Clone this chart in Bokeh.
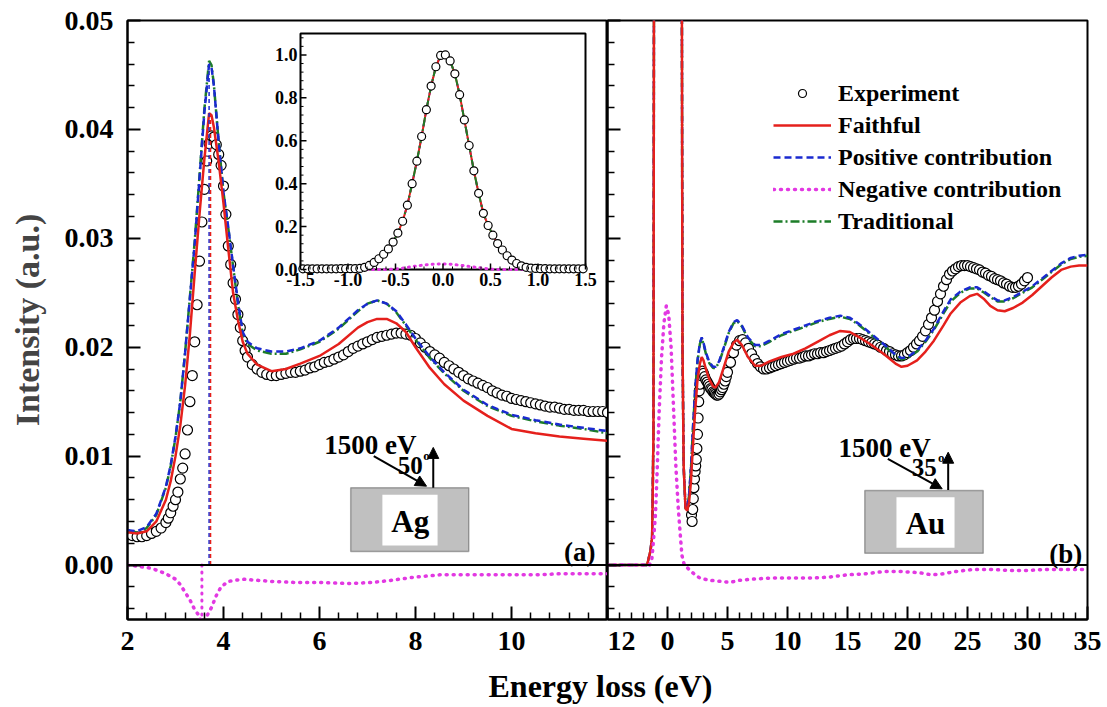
import numpy as np
from bokeh.plotting import figure
from bokeh.layouts import column, row
from bokeh.models import (Range1d, FixedTicker, Span, Legend, LegendItem, BoxAnnotation,
                          Arrow, NormalHead, Label, NumeralTickFormatter)
from bokeh.core.properties import value
from bokeh.embed import file_html
from bokeh.resources import INLINE

# ---------------- DATA ----------------
# Panel (a): Ag
ag_exp_x = ([round(2.0 + 0.1 * i, 2) for i in range(9)]
            + [round(2.85 + 0.05 * i, 2) for i in range(34)]
            + [round(4.6 + 0.1 * i, 2) for i in range(75)])
ag_exp_y = [0.0028, 0.0027, 0.0026, 0.0026, 0.0027, 0.0029, 0.0031, 0.0034, 0.0039,
            0.0043, 0.0048, 0.0054, 0.0060, 0.0067, 0.0079, 0.0089, 0.0102, 0.0124, 0.0150,
            0.0174, 0.0205, 0.0239, 0.0279, 0.0315, 0.0345, 0.0371, 0.0387, 0.0394, 0.0393,
            0.0386, 0.0377, 0.0367, 0.0348, 0.0322, 0.0293, 0.0276, 0.0259, 0.0244, 0.0230,
            0.0218, 0.0206, 0.0197, 0.0191,
            0.0184, 0.0180, 0.0177, 0.0175, 0.0174, 0.0174, 0.0175, 0.0176, 0.0177, 0.0177,
            0.0178, 0.0179, 0.0181, 0.0182, 0.0184, 0.0186, 0.0187, 0.0189, 0.0191, 0.0193,
            0.0196, 0.0199, 0.0201, 0.0203, 0.0205, 0.0207, 0.0209, 0.0210, 0.0211, 0.0212,
            0.0213, 0.0213, 0.0212, 0.0211, 0.0208, 0.0204, 0.0200, 0.0196, 0.0193, 0.0190,
            0.0186, 0.0183, 0.0180, 0.0177, 0.0174, 0.0171, 0.0169, 0.0167, 0.0165, 0.0163,
            0.0160, 0.0158, 0.0156, 0.0155, 0.0153, 0.0152, 0.0151, 0.0150, 0.0149, 0.0148,
            0.0147, 0.0146, 0.0145, 0.0145, 0.0144, 0.0143, 0.0143, 0.0142, 0.0142, 0.0142,
            0.0141, 0.0141, 0.0141, 0.0141, 0.0140]

ag_fit_x = [2.0, 2.2, 2.4, 2.6, 2.8, 2.9, 3.0, 3.1, 3.2, 3.3, 3.4, 3.5, 3.6, 3.7, 3.75,
            3.8, 3.9, 4.0, 4.1, 4.2, 4.3, 4.4, 4.5, 4.7, 5.0, 5.3, 5.6, 6.0, 6.4, 6.8,
            7.0, 7.2, 7.4, 7.6, 7.8, 8.0, 8.3, 8.6, 9.0, 9.5, 10.0, 10.5, 11.0, 11.5, 12.0]
ag_faithful = [0.0030, 0.0029, 0.0031, 0.0040, 0.0060, 0.0077, 0.0100, 0.0128, 0.0165, 0.0212,
               0.0268, 0.0322, 0.0372, 0.0415, 0.0413, 0.0402, 0.0370, 0.0332, 0.0290, 0.0250,
               0.0225, 0.0205, 0.0194, 0.0184, 0.0178, 0.0180, 0.0185, 0.0192, 0.0203, 0.0218,
               0.0223, 0.0226, 0.0226, 0.0222, 0.0214, 0.0200, 0.0181, 0.0166, 0.0151, 0.0137,
               0.0125, 0.0121, 0.0118, 0.0116, 0.0114]
ag_positive = [0.0032, 0.0031, 0.0035, 0.0047, 0.0072, 0.0092, 0.0118, 0.0150, 0.0195, 0.0245,
               0.0295, 0.0355, 0.0415, 0.0460, 0.0457, 0.0440, 0.0388, 0.0342, 0.0310, 0.0275,
               0.0242, 0.0214, 0.0205, 0.0199, 0.0196, 0.0196, 0.0199, 0.0206, 0.0218, 0.0234,
               0.0240, 0.0243, 0.0240, 0.0233, 0.0221, 0.0208, 0.0191, 0.0177, 0.0161, 0.0147,
               0.0138, 0.0133, 0.0129, 0.0126, 0.0123]
ag_traditional = [0.0031, 0.0030, 0.0034, 0.0046, 0.0071, 0.0091, 0.0117, 0.0150, 0.0195, 0.0246,
                  0.0297, 0.0357, 0.0418, 0.0463, 0.0459, 0.0441, 0.0388, 0.0342, 0.0309, 0.0274,
                  0.0240, 0.0212, 0.0203, 0.0197, 0.0194, 0.0194, 0.0198, 0.0205, 0.0217, 0.0233,
                  0.0240, 0.0243, 0.0240, 0.0232, 0.0220, 0.0207, 0.0190, 0.0176, 0.0160, 0.0146,
                  0.0137, 0.0132, 0.0128, 0.0125, 0.0121]
ag_neg_x = [2.0, 2.2, 2.5, 2.8, 3.0, 3.1, 3.2, 3.3, 3.4, 3.5, 3.55, 3.6, 3.65, 3.75, 3.85,
            3.95, 4.1, 4.4, 5.0, 5.5, 6.0, 6.6, 7.1, 7.5, 8.0, 8.5, 9.0, 9.5, 10.0, 10.5,
            11.0, 11.5, 12.0]
ag_negative = [0.0, -0.0001, -0.0003, -0.0008, -0.0013, -0.0018, -0.0025, -0.0032, -0.0041,
               -0.0047, -0.0056, -0.0056, -0.0047, -0.0039, -0.0028, -0.0020, -0.0015, -0.0013,
               -0.0015, -0.0016, -0.0016, -0.0017, -0.0016, -0.0014, -0.0011, -0.0009, -0.0009,
               -0.0009, -0.0009, -0.0009, -0.0008, -0.0008, -0.0008]
# sharp spikes (singular points) of the Ag curves
ag_spike_x = [3.70, 3.73]          # positive, faithful
ag_spike_top = [0.0460, 0.0413]
ag_neg_spike_x = [3.55]

# Inset: elastic peak
inset_x = [round(-1.475 + 0.05 * i, 3) for i in range(60)]
inset_exp = [0.003, 0.003, 0.003, 0.003, 0.003, 0.003, 0.003, 0.003, 0.004, 0.004,
             0.004, 0.004, 0.005, 0.010, 0.019, 0.033, 0.050, 0.071, 0.096, 0.128,
             0.170, 0.225, 0.300, 0.400, 0.505, 0.620, 0.745, 0.855, 0.945, 0.998,
             1.000, 0.972, 0.912, 0.815, 0.697, 0.578, 0.460, 0.355, 0.262, 0.205,
             0.160, 0.121, 0.091, 0.064, 0.044, 0.028, 0.017, 0.010, 0.006, 0.005,
             0.004, 0.004, 0.003, 0.003, 0.003, 0.003, 0.003, 0.003, 0.003, 0.003]
inset_fit = list(inset_exp)
inset_neg_x = [-1.5, -0.6, -0.5, -0.4, -0.3, -0.2, -0.1, 0.0, 0.1, 0.2, 0.3, 0.4, 0.5, 0.6, 1.5]
inset_neg = [0.0, 0.0, 0.002, 0.008, 0.015, 0.021, 0.025, 0.026, 0.024, 0.019, 0.013, 0.007,
             0.002, 0.0, 0.0]

# Panel (b): Au
au_exp_x = ([round(2.0 + 0.05 * i, 2) for i in range(15)]
            + [round(2.8 + 0.1 * i, 2) for i in range(23)]
            + [round(5.25 + 0.25 * i, 2) for i in range(100)])
au_exp_y = [0.0046, 0.0040, 0.0051, 0.0061, 0.0071, 0.0079, 0.0086, 0.0091, 0.0097, 0.0107,
            0.0120, 0.0135, 0.0150, 0.0160, 0.0166,
            0.0174, 0.0178, 0.0176, 0.0173, 0.0170, 0.0168, 0.0166, 0.0164, 0.0162, 0.0161,
            0.0159, 0.0158, 0.0157, 0.0156, 0.0156, 0.0157, 0.0159, 0.0161, 0.0163, 0.0166,
            0.0169, 0.0173, 0.0177,
            0.0186, 0.0195, 0.0202, 0.0206, 0.0207, 0.0204, 0.0199, 0.0194, 0.0189, 0.0185,
            0.0182, 0.0180, 0.0180, 0.0181, 0.0182, 0.0183, 0.0184, 0.0185, 0.0186, 0.0187,
            0.0188, 0.0189, 0.0190, 0.0190, 0.0191, 0.0192, 0.0192, 0.0193, 0.0194, 0.0194,
            0.0195, 0.0195, 0.0196, 0.0197, 0.0198, 0.0199, 0.0200, 0.0201, 0.0203, 0.0205,
            0.0207, 0.0208, 0.0208, 0.0208, 0.0207, 0.0206, 0.0205, 0.0204, 0.0203, 0.0202,
            0.0200, 0.0199, 0.0197, 0.0196, 0.0194, 0.0193, 0.0192, 0.0192, 0.0193, 0.0195,
            0.0197, 0.0200, 0.0203, 0.0206, 0.0210, 0.0215, 0.0221, 0.0227, 0.0234, 0.0242,
            0.0249, 0.0256, 0.0262, 0.0267, 0.0270, 0.0272, 0.0274, 0.0275, 0.0275, 0.0275,
            0.0274, 0.0273, 0.0272, 0.0271, 0.0269, 0.0268, 0.0266, 0.0265, 0.0263, 0.0262,
            0.0261, 0.0259, 0.0258, 0.0256, 0.0255, 0.0255, 0.0256, 0.0258, 0.0261, 0.0264]

au_fit_x = [-5.0, -3.0, -2.0, -1.7, -1.42, -1.28, -1.17, -1.1, -0.8, -0.4,
            0.0, 0.4, 0.8, 1.15, 1.25, 1.35, 1.5, 1.65, 1.8, 1.95,
            2.1, 2.3, 2.5, 2.7, 2.85, 3.0, 3.2, 3.5, 3.8, 4.0,
            4.3, 4.7, 5.1, 5.5, 5.8, 6.2, 6.7, 7.3, 7.8, 8.5,
            9.5, 10.5, 11.5, 12.5, 13.5, 14.4, 15.2, 16.0, 17.0, 18.0,
            19.0, 19.5, 20.0, 20.8, 21.5, 22.2, 23.0, 23.6, 24.4, 25.2,
            25.8, 26.4, 26.9, 27.5, 28.1, 28.8, 29.6, 30.4, 31.2, 32.0,
            32.8, 33.6, 34.3, 35.0]
au_faithful = [0.0, 0.0, 0.0, 0.0, 0.0013, 0.0026, 0.012, 0.08, 0.4, 0.85,
               1.0, 0.85, 0.4, 0.08, 0.02, 0.009, 0.0052, 0.0050, 0.0058, 0.0076,
               0.0106, 0.0141, 0.0170, 0.0185, 0.0191, 0.0188, 0.0180, 0.0170, 0.0164, 0.0163,
               0.0168, 0.0182, 0.0196, 0.0204, 0.0207, 0.0202, 0.0191, 0.0183, 0.0183, 0.0187,
               0.0191, 0.0194, 0.0199, 0.0205, 0.0211, 0.0215, 0.0214, 0.0209, 0.0202, 0.0194,
               0.0185, 0.0182, 0.0183, 0.0188, 0.0196, 0.0206, 0.0220, 0.0231, 0.0241, 0.0247,
               0.0249, 0.0244, 0.0238, 0.0234, 0.0233, 0.0236, 0.0241, 0.0248, 0.0256, 0.0264,
               0.0271, 0.0274, 0.0275, 0.0275]
au_positive = [0.0, 0.0, 0.0, 0.0, 0.0013, 0.0026, 0.012, 0.08, 0.4, 0.85,
               1.0, 0.85, 0.4, 0.08, 0.02, 0.009, 0.0052, 0.0052, 0.0065, 0.0088,
               0.0122, 0.0160, 0.0188, 0.0204, 0.0209, 0.0204, 0.0195, 0.0186, 0.0182, 0.0182,
               0.0187, 0.0200, 0.0214, 0.0223, 0.0225, 0.0220, 0.0209, 0.0202, 0.0202, 0.0206,
               0.0212, 0.0216, 0.0220, 0.0224, 0.0227, 0.0229, 0.0227, 0.0221, 0.0212, 0.0203,
               0.0193, 0.0190, 0.0191, 0.0197, 0.0206, 0.0217, 0.0233, 0.0244, 0.0251, 0.0255,
               0.0255, 0.0251, 0.0247, 0.0243, 0.0243, 0.0246, 0.0251, 0.0256, 0.0263, 0.0270,
               0.0277, 0.0282, 0.0284, 0.0285]
au_traditional = [0.0, 0.0, 0.0, 0.0, 0.0013, 0.0026, 0.012, 0.08, 0.4, 0.85,
                  1.0, 0.85, 0.4, 0.08, 0.02, 0.009, 0.0052, 0.0051, 0.0064, 0.0087,
                  0.0121, 0.0159, 0.0187, 0.0203, 0.0208, 0.0203, 0.0194, 0.0185, 0.0181, 0.0181,
                  0.0186, 0.0199, 0.0213, 0.0222, 0.0224, 0.0219, 0.0208, 0.0201, 0.0201, 0.0205,
                  0.0211, 0.0215, 0.0219, 0.0223, 0.0226, 0.0228, 0.0226, 0.0220, 0.0211, 0.0202,
                  0.0192, 0.0189, 0.0190, 0.0196, 0.0205, 0.0216, 0.0231, 0.0242, 0.0250, 0.0254,
                  0.0254, 0.0250, 0.0246, 0.0242, 0.0242, 0.0245, 0.0250, 0.0255, 0.0262, 0.0269,
                  0.0276, 0.0281, 0.0283, 0.0284]
au_neg_x = [-5.0, -2.0, -1.5, -1.3, -1.15, -1.0, -0.85, -0.7, -0.5, -0.3,
            -0.1, 0.1, 0.3, 0.5, 0.7, 0.9, 1.05, 1.2, 1.4, 1.7,
            2.2, 2.7, 3.5, 4.5, 5.2, 6.0, 7.0, 8.5, 10.0, 12.0,
            13.5, 15.0, 16.5, 18.0, 19.5, 21.0, 22.0, 23.0, 24.0, 25.5,
            27.0, 28.5, 30.0, 31.5, 33.0, 35.0]
au_negative = [0.0, 0.0, 0.0, 0.0006, 0.0025, 0.0047, 0.0090, 0.0140, 0.0190, 0.0222,
               0.0238, 0.0230, 0.0200, 0.0145, 0.0090, 0.0052, 0.0030, 0.0009, 0.0, -0.0003,
               -0.0008, -0.0012, -0.0014, -0.0015, -0.0016, -0.0014, -0.0013, -0.0012, -0.0012, -0.0012,
               -0.0011, -0.0009, -0.0008, -0.0006, -0.0006, -0.0007, -0.0009, -0.0008, -0.0006, -0.0004,
               -0.0004, -0.0005, -0.0005, -0.0004, -0.0004, -0.0004]

# Ticks / labels
y_ticks = [0.0, 0.01, 0.02, 0.03, 0.04, 0.05]
ag_xticks = [2, 4, 6, 8, 10, 12]
au_xticks = [0, 5, 10, 15, 20, 25, 30, 35]
inset_xticks = [-1.5, -1.0, -0.5, 0.0, 0.5, 1.0, 1.5]
inset_xlabels = ["-1.5", "-1.0", "-0.5", "0.0", "0.5", "1.0", "1.5"]
inset_yticks = [0.0, 0.2, 0.4, 0.6, 0.8, 1.0]
inset_ylabels = ["0.0", "0.2", "0.4", "0.6", "0.8", "1.0"]
legend_labels = ["Experiment", "Faithful", "Positive contribution",
                 "Negative contribution", "Traditional"]

# ---------------- STYLE ----------------
FONT = "Liberation Serif"
RED = "#e5201c"
BLUE = "#1a2ad0"
MAG = "#e238e2"
GREEN = "#1d7d28"
GRAY = "#c0c0c0"
FRAME_W, FRAME_H = 480, 599
LEFT, TOP, BOTTOM, RIGHT = 127, 20, 47, 16
LABEL_H = 40

yr = Range1d(-0.005, 0.05)


def style(p):
    p.grid.visible = False
    p.outline_line_color = "black"
    p.outline_line_width = 2
    p.axis.axis_line_width = 2
    p.axis.major_tick_in = 13
    p.axis.major_tick_out = 0
    p.axis.minor_tick_in = 7
    p.axis.minor_tick_out = 0
    p.axis.major_tick_line_width = 2
    p.axis.minor_tick_line_width = 1.5
    p.axis.major_label_text_font = FONT
    p.axis.major_label_text_font_style = "bold"
    p.axis.major_label_text_font_size = "28px"
    p.axis.major_label_text_color = "black"
    p.xaxis.major_label_standoff = 12


def draw_curves(p, ex, ey, fx, faith, pos, trad, nx, neg, size):
    r_exp = p.scatter(ex, ey, marker="circle", size=size, fill_color="white",
                      line_color="black", line_width=1.2)
    r_trad = p.line(fx, trad, line_color=GREEN, line_width=2.5, line_dash="9 3 2 3")
    r_pos = p.line(fx, pos, line_color=BLUE, line_width=2.5, line_dash="7 4")
    r_faith = p.line(fx, faith, line_color=RED, line_width=2.5)
    r_neg = p.line(nx, neg, line_color=MAG, line_width=3.5, line_dash="1 6", line_cap="round")
    return r_exp, r_faith, r_pos, r_neg, r_trad


def lab(p, x, y, text, size, align="left", baseline="alphabetic"):
    p.add_layout(Label(x=x, y=y, text=text, text_font=FONT, text_font_style="bold",
                       text_font_size=size, text_align=align, text_baseline=baseline,
                       text_color="black"))


def arrow(p, x0, y0, x1, y1):
    p.add_layout(Arrow(end=NormalHead(size=11, fill_color="black", line_color="black", line_width=1),
                       x_start=x0, y_start=y0, x_end=x1, y_end=y1,
                       line_color="black", line_width=2))


# ---------------- PANEL (a) ----------------
pa = figure(frame_width=FRAME_W, frame_height=FRAME_H, x_range=Range1d(2, 12), y_range=yr,
            min_border_left=LEFT, min_border_right=0, min_border_top=TOP, min_border_bottom=BOTTOM,
            output_backend="svg", toolbar_location=None)
style(pa)
pa.xaxis.ticker = FixedTicker(ticks=ag_xticks[:-1],
                              minor_ticks=[round(2 + 0.4 * i, 2) for i in range(26) if i % 5 != 0])
pa.yaxis.ticker = FixedTicker(ticks=y_ticks,
                              minor_ticks=[round(-0.004 + 0.002 * i, 3) for i in range(27) if (i - 2) % 5 != 0])
pa.yaxis.formatter = NumeralTickFormatter(format="0.00")
pa.yaxis.major_label_standoff = 14
pa.yaxis.axis_label = "Intensity (a.u.)"
pa.yaxis.axis_label_text_font = FONT
pa.yaxis.axis_label_text_font_style = "bold"
pa.yaxis.axis_label_text_font_size = "34px"
pa.yaxis.axis_label_standoff = 16

pa.add_layout(Span(location=0, dimension="width", line_color="black", line_width=2))
draw_curves(pa, ag_exp_x, ag_exp_y, ag_fit_x, ag_faithful, ag_positive, ag_traditional,
            ag_neg_x, ag_negative, 10)
pa.segment(x0=ag_spike_x[:1], y0=[0], x1=ag_spike_x[:1], y1=ag_spike_top[:1],
           line_color=BLUE, line_width=1.5, line_dash="4 3")
pa.segment(x0=ag_spike_x[1:], y0=[0], x1=ag_spike_x[1:], y1=ag_spike_top[1:],
           line_color=RED, line_width=1.5, line_dash="4 3")
pa.segment(x0=ag_neg_spike_x, y0=[0], x1=ag_neg_spike_x, y1=[-0.006],
           line_color=MAG, line_width=3, line_dash="1 6", line_cap="round")

# inset placement (pixels within frame of panel a)
IN_L, IN_R, IN_T, IN_B = 173, 458, 13, 249
IX_PX = 3.0 / (IN_R - IN_L)
IY_PX = 1.1 / (IN_B - IN_T)
pa.extra_x_ranges = {"ix": Range1d(-1.5 - IN_L * IX_PX, 1.5 + (FRAME_W - IN_R) * IX_PX)}
pa.extra_y_ranges = {"iy": Range1d(-(FRAME_H - IN_B) * IY_PX, 1.1 + IN_T * IY_PX)}
kw = dict(x_range_name="ix", y_range_name="iy")
pa.quad(left=[-1.5], right=[1.5], bottom=[0], top=[1.1], fill_color="white",
        line_color="black", line_width=2, **kw)
pa.line(inset_x, inset_fit, line_color=BLUE, line_width=2, line_dash="7 4", **kw)
pa.line(inset_x, inset_fit, line_color=RED, line_width=2, **kw)
pa.line(inset_x, inset_fit, line_color=GREEN, line_width=2, line_dash="9 3 2 3", **kw)
pa.line(inset_neg_x, inset_neg, line_color=MAG, line_width=3, line_dash="1 5", line_cap="round", **kw)
pa.scatter(inset_x, inset_exp, marker="circle", size=8, fill_color="white",
           line_color="black", line_width=1.2, **kw)
# inset ticks
ixt_minor = [round(-1.5 + 0.1 * i, 2) for i in range(31) if i % 5 != 0]
iyt_minor = [round(0.04 * i, 2) for i in range(28) if i % 5 != 0]
pa.segment(x0=inset_xticks, y0=[0] * 7, x1=inset_xticks, y1=[6 * IY_PX] * 7,
           line_color="black", line_width=1.5, **kw)
pa.segment(x0=ixt_minor, y0=[0] * len(ixt_minor), x1=ixt_minor, y1=[3 * IY_PX] * len(ixt_minor),
           line_color="black", line_width=1, **kw)
pa.segment(x0=[-1.5] * 6, y0=inset_yticks, x1=[-1.5 + 6 * IX_PX] * 6, y1=inset_yticks,
           line_color="black", line_width=1.5, **kw)
pa.segment(x0=[-1.5] * len(iyt_minor), y0=iyt_minor, x1=[-1.5 + 3 * IX_PX] * len(iyt_minor),
           y1=iyt_minor, line_color="black", line_width=1, **kw)
pa.text(x=inset_xticks, y=[0] * 7, text=inset_xlabels, text_align="center", text_baseline="top",
        y_offset=3, text_font=value(FONT), text_font_style="bold", text_font_size="18px",
        text_color="black", **kw)
pa.text(x=[-1.5] * 6, y=inset_yticks, text=inset_ylabels, text_align="right", text_baseline="middle",
        x_offset=-3, text_font=value(FONT), text_font_style="bold", text_font_size="18px",
        text_color="black", **kw)

# sample sketch (a)
pa.add_layout(BoxAnnotation(left=6.65, right=9.11, bottom=0.00124, top=0.00709, fill_color=GRAY,
                            fill_alpha=1, line_color="black", line_width=1.5))
pa.add_layout(BoxAnnotation(left=7.31, right=8.46, bottom=0.00179, top=0.00645, fill_color="white",
                            fill_alpha=1, line_color=None))
lab(pa, 7.89, 0.0040, "Ag", "31px", "center", "middle")
lab(pa, 6.10, 0.0110, "1500 eV", "27px")
arrow(pa, 7.13, 0.0100, 8.23, 0.00724)
arrow(pa, 8.37, 0.0071, 8.37, 0.0108)
lab(pa, 7.63, 0.00914, "50", "25px")
lab(pa, 8.16, 0.0101, "o", "13px")
lab(pa, 11.75, 0.0012, "(a)", "27px", "right")

# ---------------- PANEL (b) ----------------
pb = figure(frame_width=FRAME_W, frame_height=FRAME_H, x_range=Range1d(-5, 35), y_range=yr,
            min_border_left=0, min_border_right=RIGHT, min_border_top=TOP, min_border_bottom=BOTTOM,
            output_backend="svg", toolbar_location=None)
style(pb)
pb.xaxis.ticker = FixedTicker(ticks=[-5] + au_xticks,
                              minor_ticks=[v for v in range(-4, 35) if v % 5 != 0])
pb.xaxis.major_label_overrides = {-5: str(ag_xticks[-1])}
pb.yaxis.ticker = FixedTicker(ticks=y_ticks,
                              minor_ticks=[round(-0.004 + 0.002 * i, 3) for i in range(27) if (i - 2) % 5 != 0])
pb.yaxis.major_label_overrides = {v: "" for v in y_ticks}
pb.yaxis.major_label_standoff = 0

pb.add_layout(Span(location=0, dimension="width", line_color="black", line_width=2))
rb = draw_curves(pb, au_exp_x, au_exp_y, au_fit_x, au_faithful, au_positive, au_traditional,
                 au_neg_x, au_negative, 10)

pb.add_layout(BoxAnnotation(left=16.44, right=26.31, bottom=0.00108, top=0.00684, fill_color=GRAY,
                            fill_alpha=1, line_color="black", line_width=1.5))
pb.add_layout(BoxAnnotation(left=19.08, right=23.92, bottom=0.00158, top=0.00623, fill_color="white",
                            fill_alpha=1, line_color=None))
lab(pb, 21.5, 0.0038, "Au", "31px", "center", "middle")
lab(pb, 14.25, 0.01076, "1500 eV", "27px")
arrow(pb, 18.36, 0.00975, 22.89, 0.0070)
arrow(pb, 23.39, 0.0069, 23.39, 0.01036)
lab(pb, 20.35, 0.00898, "35", "25px")
lab(pb, 22.55, 0.0099, "o", "13px")
lab(pb, 34.56, 0.00103, "(b)", "27px", "right")

legend = Legend(items=[LegendItem(label=l, renderers=[r]) for l, r in zip(legend_labels, rb)],
                location=(166, 382), orientation="vertical")
legend.label_text_font = FONT
legend.label_text_font_style = "bold"
legend.label_text_font_size = "24px"
legend.label_text_color = "black"
legend.glyph_width = 58
legend.glyph_height = 20
legend.label_height = 32
legend.label_standoff = 7
legend.spacing = 0
legend.padding = 0
legend.margin = 0
legend.border_line_color = None
legend.background_fill_alpha = 0
pb.add_layout(legend)

# ---------------- X LABEL ----------------
TOTAL_W = LEFT + 2 * FRAME_W + RIGHT
pl = figure(width=TOTAL_W, height=LABEL_H, x_range=Range1d(0, TOTAL_W), y_range=Range1d(0, LABEL_H),
            min_border=0, toolbar_location=None, output_backend="svg",
            x_axis_location=None, y_axis_location=None)
pl.grid.visible = False
pl.outline_line_color = None
pl.add_layout(Label(x=600, y=LABEL_H - 19, text="Energy loss (eV)", text_align="center",
                    text_baseline="middle", text_font=FONT, text_font_style="bold",
                    text_font_size="32px", text_color="black"))

layout = column(row(pa, pb), pl)
open("out.html", "w").write(file_html(layout, INLINE))
